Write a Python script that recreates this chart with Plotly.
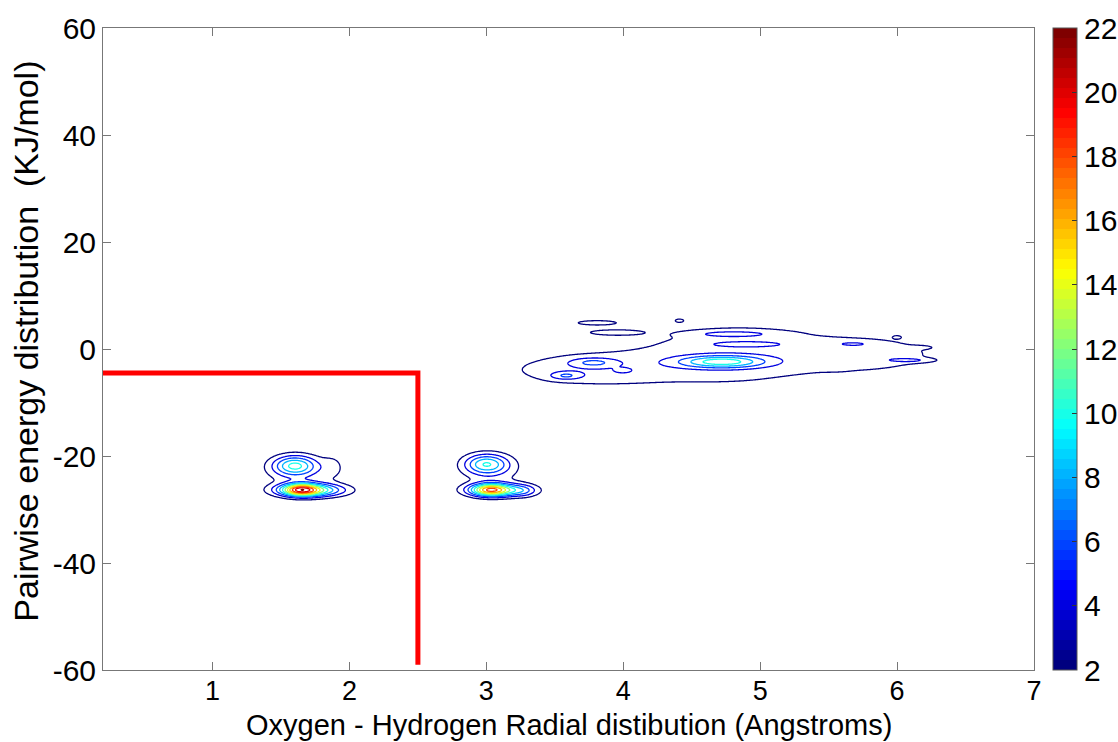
import numpy as np
import plotly.graph_objects as go

# Peaks of the O-H pair density map: centre (Angstrom, kJ/mol), height and spread
peak_x = [1.64, 1.72, 1.60, 1.64, 1.88,
          3.02, 3.10, 3.00, 3.05, 3.28,
          3.70, 4.85, 5.85,
          4.72, 3.78, 3.58, 3.80, 3.92, 4.80, 4.90, 5.68, 6.10, 6.17,
          4.60, 4.00, 5.55, 4.41, 6.00]
peak_y = [-26.3, -26.4, -21.8, -23.3, -22.0,
          -26.3, -26.4, -21.5, -23.0, -26.5,
          -3.9, -0.9, -1.0,
          -2.4, -2.5, -5.0, 4.9, 3.1, 2.8, 0.9, 1.0, -2.1, 0.3,
          -5.3, -4.0, -3.6, 5.3, 2.2]
peak_height = [11.0, 11.0, 9.0, 2.2, 1.8,
               9.5, 9.5, 8.5, 2.2, 2.0,
               3.0, 3.0, 2.6,
               8.5, 3.5, 3.5, 3.0, 2.5, 3.0, 3.0, 1.5, 2.5, 1.2,
               1.5, 2.0, 1.2, 2.6, 2.4]
spread_x = [0.09, 0.17, 0.11, 0.20, 0.06,
            0.09, 0.16, 0.11, 0.18, 0.06,
            0.45, 0.65, 0.35,
            0.22, 0.12, 0.08, 0.12, 0.15, 0.20, 0.18, 0.12, 0.12, 0.07,
            0.15, 0.04, 0.06, 0.02, 0.02]
spread_y = [0.80, 0.85, 1.30, 2.5, 1.6,
            0.80, 0.85, 1.30, 2.5, 0.8,
            2.3, 5.2, 2.2,
            0.8, 0.6, 0.5, 0.35, 0.4, 0.4, 0.35, 0.35, 0.3, 0.25,
            0.35, 0.3, 0.3, 0.2, 0.2]

contour_levels = [2, 22, 2]          # start, end, step
colorbar_ticks = [2, 4, 6, 8, 10, 12, 14, 16, 18, 20, 22]
x_ticks = [1, 2, 3, 4, 5, 6, 7]
y_ticks = [-60, -40, -20, 0, 20, 40, 60]
y_tick_labels = ["-60", "-40", "-20", "0", "20", "40", "60"]

# Cut-off boundary drawn in red
cut_x = [0.2, 2.5, 2.5]
cut_y = [-4.5, -4.5, -59]

# Density grid built from the peak list
gx = np.round(np.arange(0.2, 7.0001, 0.01), 3)
gy = np.round(np.arange(-40, 15.0001, 0.1), 3)
X, Y = np.meshgrid(gx, gy)
Z = np.zeros_like(X)
for cx, cy, h, sx, sy in zip(peak_x, peak_y, peak_height, spread_x, spread_y):
    Z += h * np.exp(-0.5 * (((X - cx) / sx) ** 2 + ((Y - cy) / sy) ** 2))
Z = np.round(Z, 3)


def jet(t):
    r = min(max(1.5 - abs(4 * t - 3), 0), 1)
    g = min(max(1.5 - abs(4 * t - 2), 0), 1)
    b = min(max(1.5 - abs(4 * t - 1), 0), 1)
    return f"rgb({int(r*255)},{int(g*255)},{int(b*255)})"


# 64-step jet colormap as a stepped colorscale
n = 64
jet_scale = []
for i in range(n):
    c = jet(i / (n - 1))
    jet_scale.append([i / n, c])
    jet_scale.append([(i + 1) / n, c])

fig = go.Figure()

fig.add_trace(go.Contour(
    x=gx, y=gy, z=Z,
    contours=dict(start=contour_levels[0], end=contour_levels[1],
                  size=contour_levels[2], coloring="lines"),
    colorscale=jet_scale, zmin=2, zmax=22,
    line=dict(width=1.3),
    showscale=False, hoverinfo="skip",
))

# Colour bar carrier
fig.add_trace(go.Scatter(
    x=[0.2, 0.2], y=[-100, -100], mode="markers",
    marker=dict(size=1, opacity=0, color=[2, 22], cmin=2, cmax=22,
                colorscale=jet_scale, showscale=True,
                colorbar=dict(
                    x=1.0204, xanchor="left", xpad=0, ypad=0,
                    y=0.5, yanchor="middle", len=1, lenmode="fraction",
                    thickness=24, thicknessmode="pixels",
                    outlinewidth=1, outlinecolor="#555",
                    tickvals=colorbar_ticks, ticks="inside", ticklen=5,
                    tickcolor="#333",
                    tickfont=dict(family="Liberation Sans, Arial", size=30, color="black"),
                )),
    hoverinfo="skip", showlegend=False,
))

fig.add_trace(go.Scatter(
    x=cut_x, y=cut_y, mode="lines",
    line=dict(color="rgb(255,0,0)", width=5),
    showlegend=False, hoverinfo="skip",
))

axis_common = dict(
    showline=True, linecolor="#777", linewidth=1, mirror="ticks",
    ticks="inside", ticklen=8, tickcolor="#777",
    showgrid=False, zeroline=False,
)

fig.update_layout(
    width=1118, height=742,
    margin=dict(l=103, r=84, t=28, b=72, autoexpand=False),
    paper_bgcolor="white", plot_bgcolor="white",
    showlegend=False,
    xaxis=dict(range=[0.2, 7], tickvals=x_ticks, ticklabelstandoff=-3,
               tickfont=dict(family="Liberation Sans, Arial", size=27, color="black"),
               **axis_common),
    yaxis=dict(range=[-60, 60], tickvals=y_ticks, ticktext=y_tick_labels,
               tickfont=dict(family="Liberation Sans, Arial", size=30, color="black"),
               **axis_common),
    annotations=[
        dict(text="Oxygen - Hydrogen Radial distibution (Angstroms)",
             xref="paper", yref="paper", x=0.5, y=-0.0857, xanchor="center", yanchor="middle",
             showarrow=False,
             font=dict(family="Liberation Sans, Arial", size=29, color="black")),
        dict(text="Pairwise energy distribution  (KJ/mol)",
             xref="paper", yref="paper", x=-0.083, y=0.5125, xanchor="center", yanchor="middle",
             textangle=-90, showarrow=False,
             font=dict(family="Liberation Sans, Arial", size=34, color="black")),
    ],
)

fig.write_html("out.html")
